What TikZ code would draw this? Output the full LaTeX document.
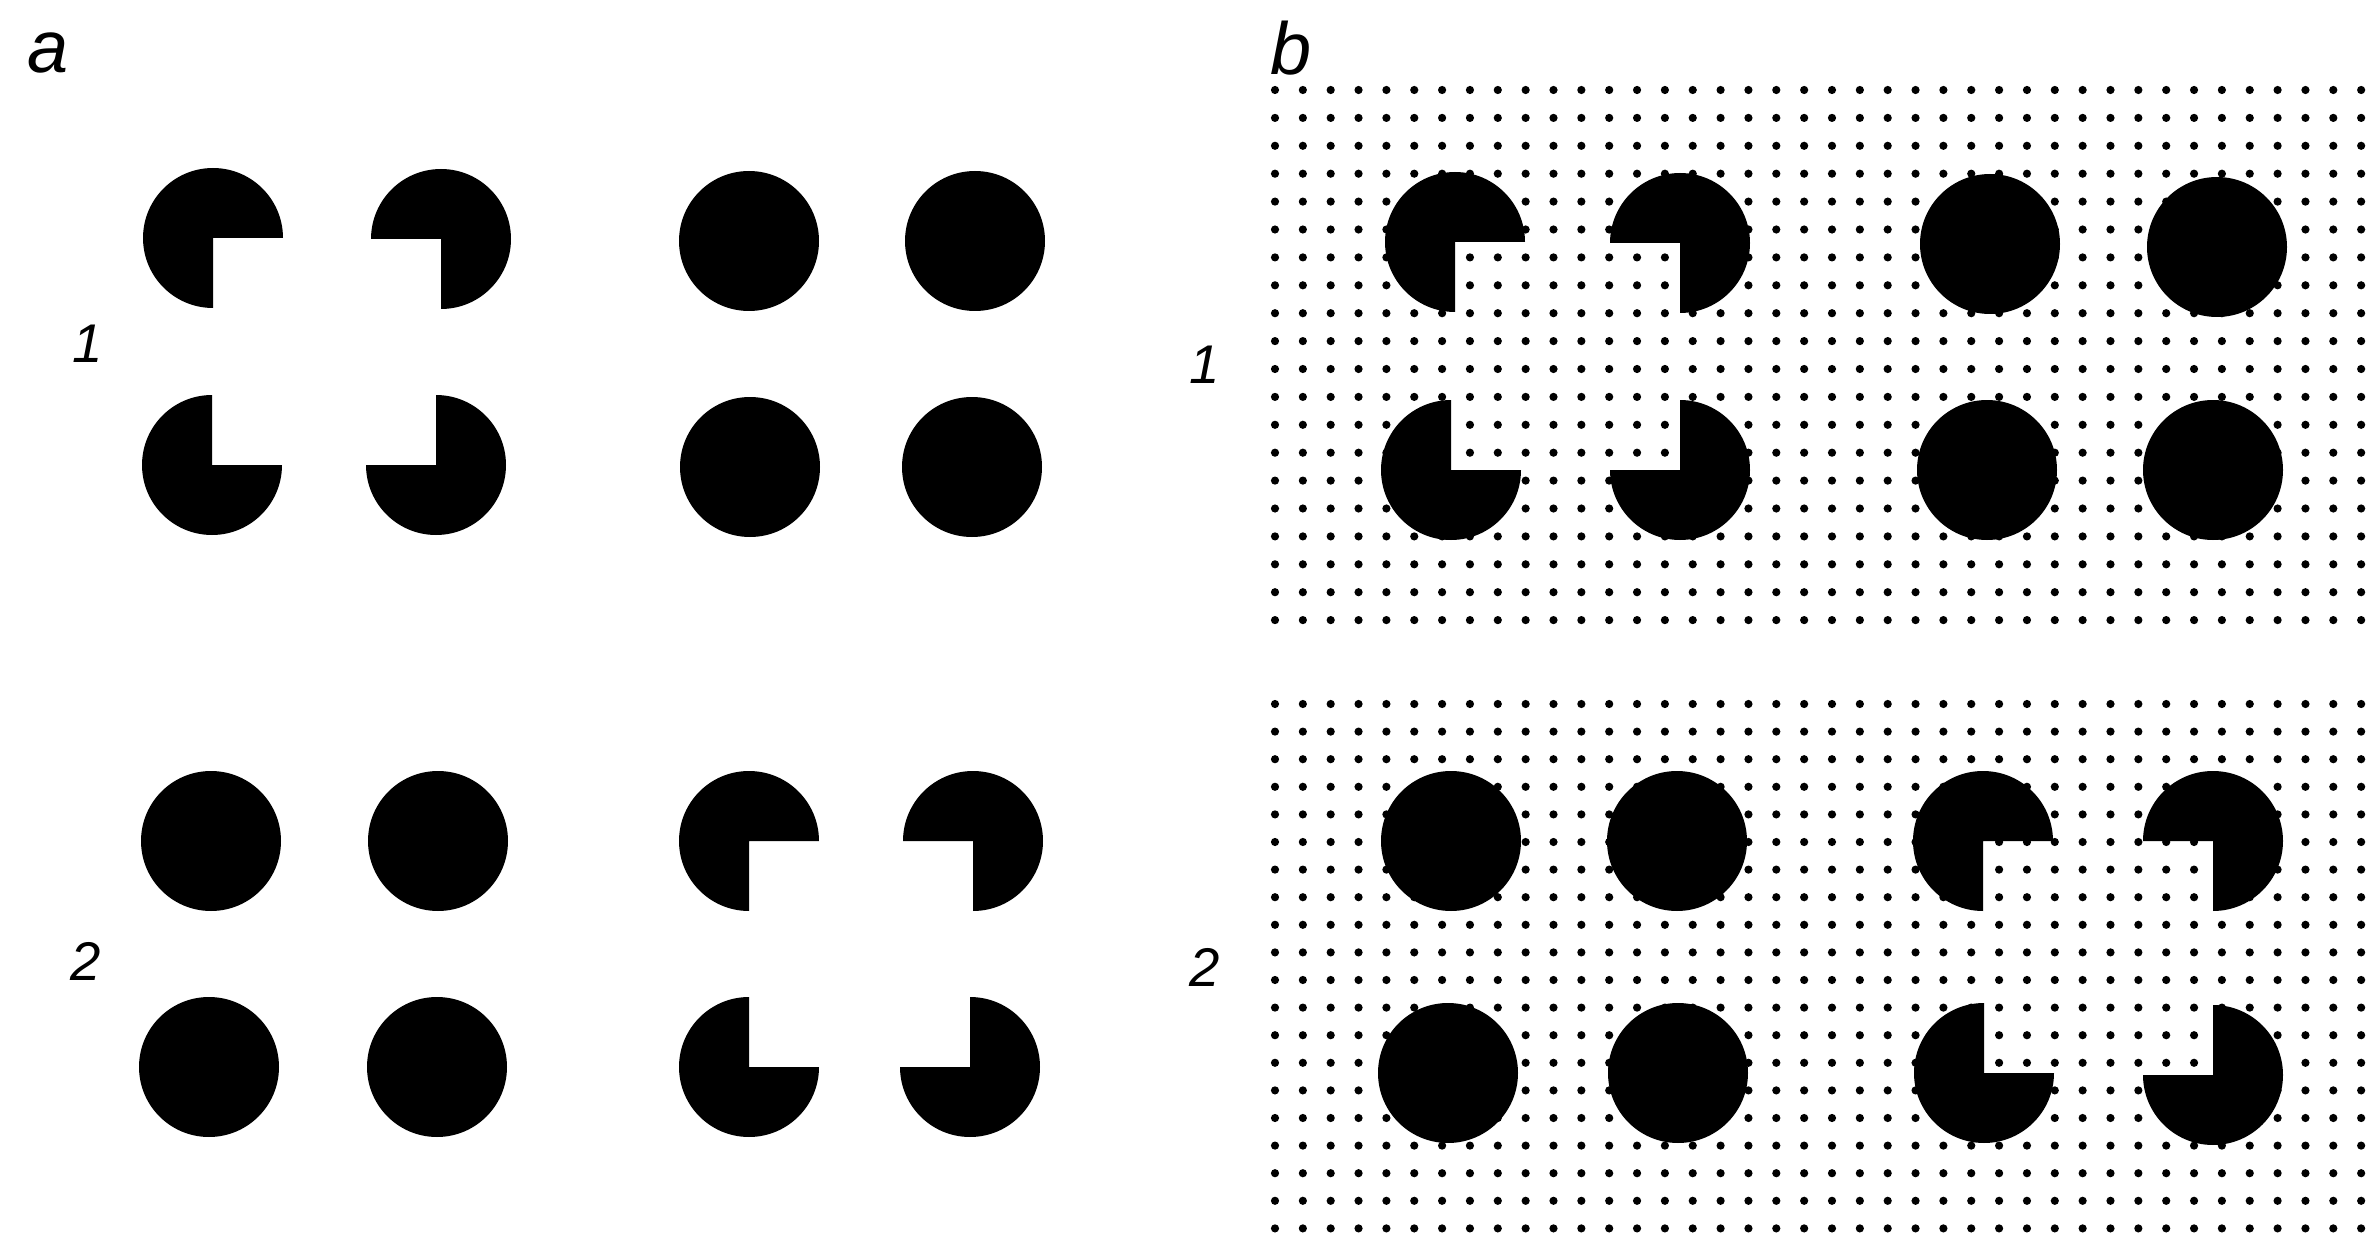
\documentclass[tikz,border=0pt]{standalone}
\usepackage{fontspec}
\setmainfont{Liberation Sans}
\begin{document}
\begin{tikzpicture}[x=0.01cm,y=0.01cm,
  lettertxt/.style={inner sep=0pt,font=\fontsize{21}{25}\selectfont\itshape},
  digittxt/.style={inner sep=0pt,font=\fontsize{15.5}{19}\selectfont\itshape}]
\newcommand\pacman[3]{\fill[black] (#1,#2) -- ++(#3:70) arc[start angle=#3, delta angle=270, radius=70] -- cycle;}
\newcommand\disc[2]{\fill[black] (#1,#2) circle[radius=70];}
\fill[white] (0,0) rectangle (2377,1235);
\useasboundingbox (0,0) rectangle (2377,1235);
% dot grids
\foreach \i in {0,...,39}{
  \foreach \j in {0,...,19}{
    \fill[black] (1275+\i*27.85,1145-\j*27.9) circle[radius=4.1];
    \fill[black] (1275+\i*27.85,531-\j*27.6) circle[radius=4.1];
  }
}
% panel a, block 1
\pacman{213}{997}{0}
\pacman{441}{996}{-90}
\pacman{212}{770}{90}
\pacman{436}{770}{180}
\disc{749}{994}
\disc{975}{994}
\disc{750}{768}
\disc{972}{768}
% panel a, block 2
\disc{211}{394}
\disc{438}{394}
\disc{209}{168}
\disc{437}{168}
\pacman{749}{394}{0}
\pacman{973}{394}{-90}
\pacman{749}{168}{90}
\pacman{970}{168}{180}
% panel b, block 1
\pacman{1455}{993}{0}
\pacman{1680}{992}{-90}
\pacman{1451}{765}{90}
\pacman{1680}{765}{180}
\disc{1990}{991}
\disc{2217}{988}
\disc{1987}{765}
\disc{2213}{765}
% panel b, block 2
\disc{1451}{394}
\disc{1677}{394}
\disc{1448}{162}
\disc{1678}{162}
\pacman{1983}{394}{0}
\pacman{2213}{394}{-90}
\pacman{1984}{162}{90}
\pacman{2213}{160}{180}
% labels
\node[lettertxt,anchor=base west] (la) at (27,1162) {a};
\node[lettertxt,anchor=base west] (lb) at (1270,1160) {b};
\node[digittxt,anchor=base] (la1) at (88,873) {1};
\node[digittxt,anchor=base] (lb1) at (1205,851) {1};
\node[digittxt,anchor=base] (la2) at (86,255) {2};
\node[digittxt,anchor=base] (lb2) at (1205,249) {2};
\end{tikzpicture}
\end{document}
